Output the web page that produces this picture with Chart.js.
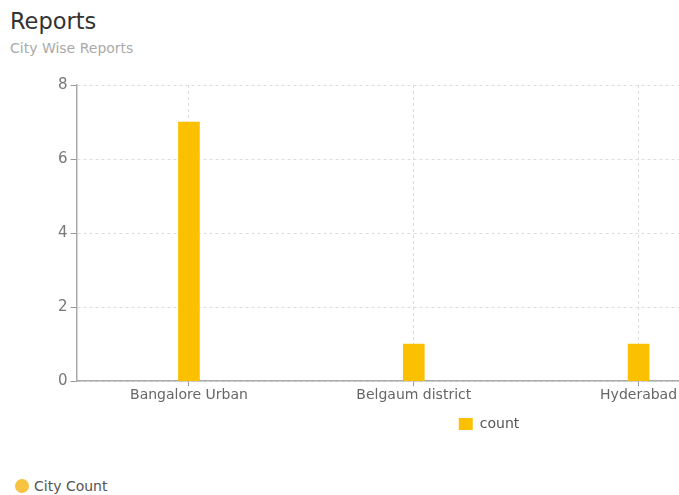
<!DOCTYPE html>
<html>
<head>
<meta charset="utf-8">
<script src="https://cdn.jsdelivr.net/npm/chart.js@4"></script>
<style>
  html, body { margin: 0; padding: 0; background: #fff; overflow: hidden; width: 679px; height: 495px; }
  body { position: relative; font-family: "DejaVu Sans", sans-serif; }
  #title { position: absolute; left: 10px; top: 8px; font-size: 22.5px; color: #333; }
  #subtitle { position: absolute; left: 10px; top: 40px; font-size: 14px; color: #aaa; }
  #wrap { position: absolute; left: 0; top: 70px; width: 760px; height: 371px; }
  #foot { position: absolute; left: 15px; top: 478px; font-size: 14px; color: #555; display: flex; align-items: center; }
  #foot .dot { width: 14px; height: 14px; border-radius: 50%; background: #f6c343; margin-right: 5px; }
</style>
</head>
<body>
<div id="title">Reports</div>
<div id="subtitle">City Wise Reports</div>
<div id="wrap"><canvas id="c" width="760" height="371"></canvas></div>
<div id="foot"><span class="dot"></span><span>City Count</span></div>
<script>
const categories = ["Bangalore Urban", "Belgaum district", "Hyderabad"];
const countValues = [7, 1, 1];
const yTicks = [0, 2, 4, 6, 8];
const seriesLabel = "count";

const legendShift = {
  id: 'legendShift',
  afterLayout(chart) {
    const lg = chart.legend;
    if (lg) { lg.left += 86; lg.right += 86; }
  }
};

new Chart(document.getElementById('c'), {
  type: 'bar',
  data: {
    labels: categories,
    datasets: [{
      label: seriesLabel,
      data: countValues,
      backgroundColor: '#fbc000',
      borderWidth: 0,
      barThickness: 21
    }]
  },
  plugins: [legendShift],
  options: {
    responsive: false,
    animation: false,
    devicePixelRatio: 1,
    layout: { padding: { left: 55, right: 9, top: 15, bottom: 0 } },
    plugins: {
      title: { display: false },
      tooltip: { enabled: false },
      legend: {
        position: 'bottom',
        labels: {
          boxWidth: 14, boxHeight: 12, padding: 12,
          color: '#555',
          font: { family: 'DejaVu Sans', size: 14 }
        }
      }
    },
    scales: {
      x: {
        offset: true,
        grid: { offset: false, color: '#dcdcdc', tickColor: '#999', tickLength: 5, drawTicks: true },
        border: { display: true, color: '#aaa', width: 1.5, dash: [3, 3] },
        ticks: { color: '#666', padding: 1, maxRotation: 0, font: { family: 'DejaVu Sans', size: 14 } }
      },
      y: {
        min: 0, max: 8,
        afterBuildTicks(axis) { axis.ticks = yTicks.map(v => ({ value: v })); },
        grid: { color: '#dcdcdc', tickColor: '#999', tickLength: 6 },
        border: { display: true, color: '#aaa', width: 1.5, dash: [3, 3] },
        ticks: { color: '#777', padding: 3, font: { family: 'DejaVu Sans', size: 15 } }
      }
    }
  }
});
</script>
</body>
</html>
